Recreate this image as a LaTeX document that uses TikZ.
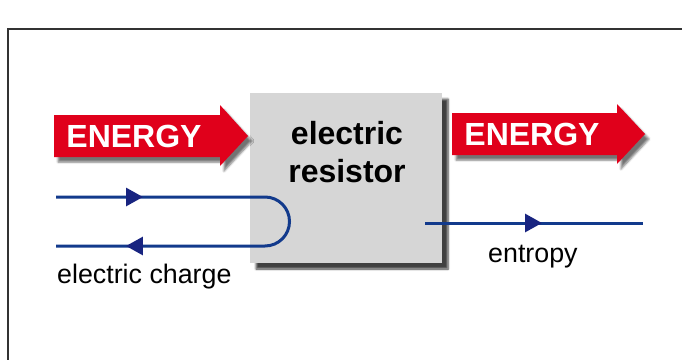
\documentclass[tikz,border=0pt]{standalone}
\usepackage{fontspec}
\setmainfont{Liberation Sans}
\usepackage{xcolor}
\usetikzlibrary{arrows.meta, positioning, decorations.markings, shadows.blur}

\definecolor{energyred}{RGB}{224,0,27}
\definecolor{boxgray}{RGB}{214,214,214}
\definecolor{flowblue}{RGB}{18,58,140}
\definecolor{tipblue}{RGB}{24,36,128}

\begin{document}
\begin{tikzpicture}[
    x=1pt, y=-1pt,
    >=Latex,
    rahmen/.style={draw=black!80, line width=1.5pt},
    geraet/.style={
        rectangle,
        fill=boxgray,
        minimum width=192pt,
        minimum height=170pt,
        blur shadow={shadow xshift=6pt, shadow yshift=-6pt, shadow blur steps=6, shadow opacity=75}
    },
    pfeil/.style={fill=energyred,
        blur shadow={shadow xshift=4pt, shadow yshift=-5pt, shadow blur steps=5, shadow opacity=55}},
    pfeiltext/.style={text=white, font=\fontsize{32}{38}\selectfont\bfseries, inner sep=0pt},
    titel/.style={align=center, font=\fontsize{32}{38}\selectfont\bfseries, inner sep=0pt},
    beschrift/.style={font=\fontsize{26.8}{30}\selectfont, inner sep=0pt},
    fluss/.style={draw=flowblue, line width=3pt},
    spitze/.style 2 args={postaction={decorate}, decoration={markings,
        mark=at position #1 with {\arrow[tipblue]{Triangle[length=17pt,width=18pt]}},
        mark=at position #2 with {\arrow[tipblue]{Triangle[length=17pt,width=18pt]}}}},
    spitzeeins/.style={postaction={decorate}, decoration={markings,
        mark=at position #1 with {\arrow[tipblue]{Triangle[length=17pt,width=18pt]}}}}
]
\useasboundingbox (0,0) rectangle (682,359);
\clip (0,0) rectangle (682,359);

% Rahmen
\draw[rahmen] (8,29) rectangle (700,380);

% Widerstand
\node[geraet] (widerstand) at (346,178) {};
\node[titel] (wtext) at (347,152) {electric\\resistor};

% Energie-Pfeile
\fill[pfeil] (54,115) -- (220,115) -- (220,105) -- (248,136) -- (220,166) -- (220,157) -- (54,157) -- cycle;
\node[pfeiltext] (ein) at (134,136) {ENERGY};
\fill[pfeil] (452,113) -- (617,113) -- (617,104) -- (645,134) -- (617,164) -- (617,155) -- (452,155) -- cycle;
\node[pfeiltext] (aus) at (532,134) {ENERGY};

% Ladungskreis
\coordinate (ladungein) at (56,197);
\coordinate (ladungaus) at (56,246);
\coordinate (bogen) at (265,197);
\draw[fluss, spitze={87pt}{425pt}] (ladungein) -- (bogen) arc(-90:90:24.5) -- (ladungaus);
\node[beschrift, anchor=base west] (ladung) at (57,283) {electric charge};

% Entropie
\coordinate (entropieein) at (425,223);
\coordinate (entropieaus) at (643,223);
\draw[fluss, spitzeeins={117pt}] (entropieein) -- (entropieaus);
\node[beschrift, anchor=base west] (entropie) at (488,262) {entropy};

\end{tikzpicture}
\end{document}
